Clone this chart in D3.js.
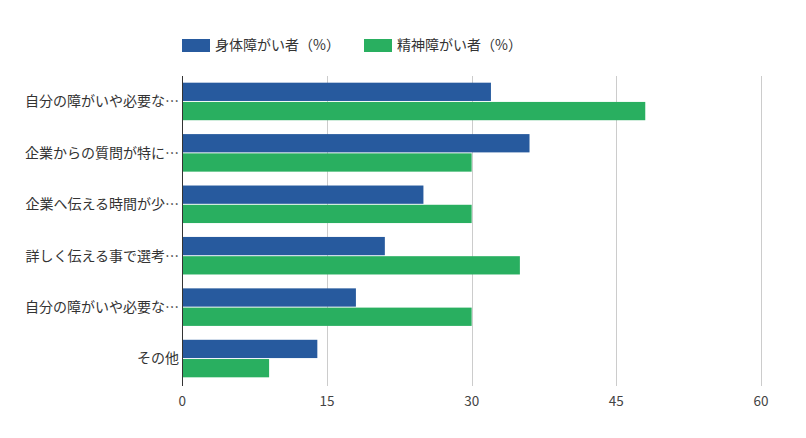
<!DOCTYPE html>
<html><head><meta charset="utf-8">
<script src="https://cdn.jsdelivr.net/npm/d3@7"></script>
<style>body{margin:0;background:#fff;} text{font-family:"Noto Sans CJK JP","Noto Sans",sans-serif;}</style>
</head><body>
<svg id="c" width="806" height="438"></svg>
<script>
const categories = ["自分の障がいや必要な…","企業からの質問が特に…","企業へ伝える時間が少…","詳しく伝える事で選考…","自分の障がいや必要な…","その他"];
const seriesNames = ["身体障がい者（%）","精神障がい者（%）"];
const physical = [32,36,25,21,18,14];
const mental = [48,30,30,35,30,9];
const xTicks = [0,15,30,45,60];
const colors = ["#275a9e","#29af60"];

(function(){
const svg = d3.select("#c");
const pLeft = 182.3, pRight = 761, pTop = 76, pBottom = 384;
const x = d3.scaleLinear().domain([0,60]).range([pLeft,pRight]);
const y = d3.scaleBand().domain(d3.range(categories.length)).range([pTop,pBottom]).paddingInner(0.27).paddingOuter(0.13);
const sub = d3.scaleBand().domain([0,1]).range([0,y.bandwidth()]).paddingInner(0.05);

// grid
svg.append("g").selectAll("line").data(xTicks.slice(1)).join("line")
  .attr("x1",d=>Math.round(x(d))+0.5).attr("x2",d=>Math.round(x(d))+0.5).attr("y1",pTop).attr("y2",pBottom+2)
  .attr("stroke","#cccccc").attr("stroke-width",1);

// bars
const series = [physical, mental];
series.forEach((vals,si)=>{
  svg.append("g").selectAll("rect").data(vals).join("rect")
    .attr("x",x(0)).attr("y",(d,i)=>y(i)+sub(si))
    .attr("width",d=>x(d)-x(0)).attr("height",sub.bandwidth())
    .attr("fill",colors[si]);
});

// axis line
svg.append("line").attr("x1",182.5).attr("x2",182.5).attr("y1",pTop).attr("y2",pBottom+2)
  .attr("stroke","#333").attr("stroke-width",1);

// x tick labels
svg.append("g").selectAll("text").data(xTicks).join("text")
  .attr("x",d=>x(d)).attr("y",406).attr("text-anchor","middle")
  .attr("font-size",13.5).attr("fill","#444").text(d=>d);

// category labels
svg.append("g").selectAll("text").data(categories).join("text")
  .attr("x",179).attr("y",(d,i)=>y(i)+y.bandwidth()/2).attr("dy","0.35em")
  .attr("text-anchor","end").attr("font-size",14).attr("fill","#333").text(d=>d);

// legend
const legX = [182,364];
seriesNames.forEach((n,i)=>{
  svg.append("rect").attr("x",legX[i]).attr("y",39).attr("width",28).attr("height",13).attr("fill",colors[i]);
  svg.append("text").attr("x",legX[i]+33).attr("y",45.5).attr("dy","0.35em")
    .attr("font-size",14).attr("fill","#333").text(n);
});
})();
</script>
</body></html>
